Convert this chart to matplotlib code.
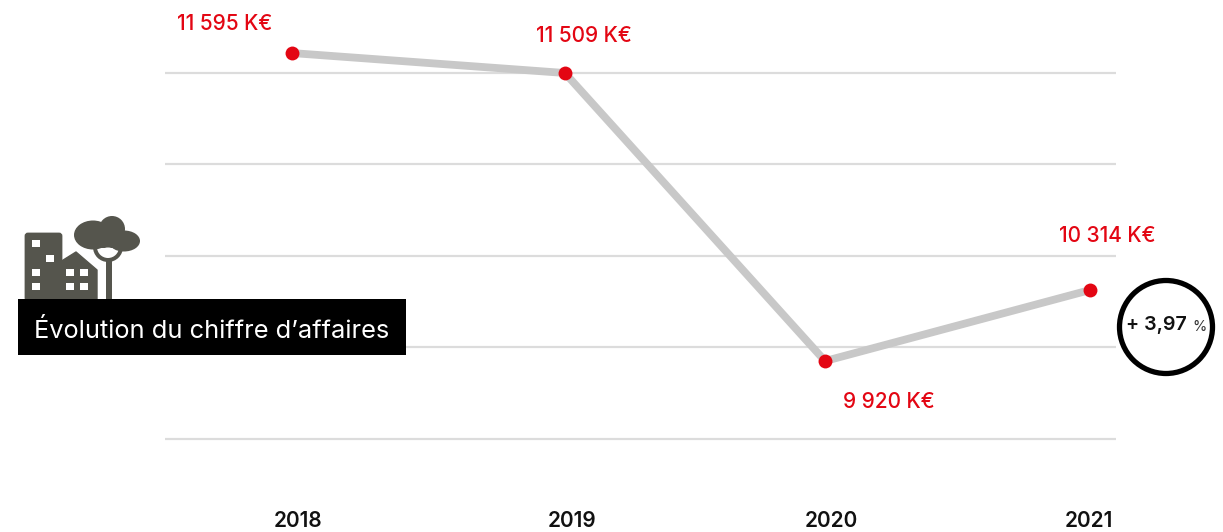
import matplotlib
matplotlib.use("Agg")
import matplotlib.pyplot as plt
from matplotlib.patches import Circle, Ellipse, Rectangle, FancyBboxPatch, Polygon, Wedge

W, H = 1223, 532
plt.rcParams['font.family'] = ['Inter', 'DejaVu Sans']

years = ['2018', '2019', '2020', '2021']
value_labels = ['11 595 K€', '11 509 K€', '9 920 K€', '10 314 K€']
values = [11609, 11500, 9926, 10314]
grid_values = [9500, 10000, 10500, 11000, 11500]
title = "Évolution du chiffre d’affaires"
change_value = '+ 3,97'
change_unit = '%'

# Layout: horizontal places on the year axis (the picture spaces them unevenly)
point_x = [2018, 2019.026, 2020.004, 2021]
tick_x = [2018.023, 2019.053, 2020.026, 2020.996]
label_offsets_px = [(-67, 29), (19, 37), (64, -41), (17, 54)]

RED = '#e30613'
GREY = '#c8c8c8'
GRID = '#dcdcdc'
ICON = '#55554d'

fig = plt.figure(figsize=(W / 100, H / 100), dpi=100, facecolor='white')

# Chart axes: spans pixel x 165..1116, pixel y 0..500
ax = fig.add_axes([165 / W, 1 - 500 / H, (1116 - 165) / W, 500 / H])
px_per_year = 266.0
ax.set_xlim(2018 - (292 - 165) / px_per_year, 2018 + (1116 - 292) / px_per_year)
px_per_unit = 91.5 / 500
ax.set_ylim(11500 - (500 - 73) / px_per_unit, 11500 + 73 / px_per_unit)

ax.set_yticks(grid_values)
ax.set_yticklabels([])
ax.grid(axis='y', color=GRID, lw=1.6, zorder=1)
ax.grid(axis='x', visible=False)
ax.tick_params(axis='both', length=0)
for s in ax.spines.values():
    s.set_visible(False)
ax.set_xticks(tick_x)
ax.set_xticklabels(years, fontsize=15, fontweight='semibold', color='#111111')
ax.tick_params(axis='x', pad=8)
ax.patch.set_alpha(0)

ax.plot(point_x, values, color=GREY, lw=5.6, solid_joinstyle='miter', zorder=2, clip_on=False)
ax.plot(point_x, values, ls='none', marker='o', ms=10, color=RED, mec='none', zorder=3, clip_on=False)
for x, v, t, (dx, dy) in zip(point_x, values, value_labels, label_offsets_px):
    ax.annotate(t, (x, v), xytext=(dx * 0.72, dy * 0.72), textcoords='offset points',
                ha='center', va='center', color=RED, fontsize=15, fontweight='medium')

# Overlay in pixel units for the decorations
ov = fig.add_axes([0, 0, 1, 1])
ov.set_xlim(0, W)
ov.set_ylim(H, 0)
ov.axis('off')
ov.patch.set_alpha(0)

# Icon: building
ov.add_patch(FancyBboxPatch((26, 234), 35, 66, boxstyle='round,pad=0,rounding_size=2', fc=ICON, ec=ICON, lw=2))
ov.add_patch(Polygon([(60, 262), (76, 252), (97, 270), (97, 300), (60, 300)], closed=True, fc=ICON, ec=ICON, lw=1, joinstyle='round'))
for (x, y, w, h) in [(32, 240, 8, 7), (46, 255, 8, 7), (32, 269, 8, 7), (32, 283, 8, 7),
                     (66, 269, 8, 7), (80, 269, 8, 7), (66, 283, 8, 7), (80, 283, 8, 7)]:
    ov.add_patch(Rectangle((x, y), w, h, fc='white', ec='none'))
# Icon: tree
ov.add_patch(Rectangle((106, 260), 6, 39, fc=ICON, ec='none'))
ov.add_patch(Wedge((108, 247), 15, 0, 180, width=4, fc=ICON, ec='none', zorder=2))
ov.add_patch(Ellipse((93, 235), 38, 29, fc=ICON, ec='none', zorder=3))
ov.add_patch(Circle((112, 229), 13, fc=ICON, ec='none', zorder=3))
ov.add_patch(Ellipse((124, 241), 32, 21, fc=ICON, ec='none', zorder=3))
ov.add_patch(Rectangle((95, 228), 22, 20, fc=ICON, ec='none', zorder=3))
ov.add_patch(Ellipse((108, 252), 15, 9, fc='white', ec='none', zorder=3))

# Title box
ov.add_patch(Rectangle((18, 299), 388, 56, fc='black', ec='none', zorder=4))
ov.text(212, 331, title, color='white', fontsize=18.3, ha='center', va='center', zorder=5)

# Change badge
ov.add_patch(Circle((1166, 327), 46.5, fc='white', ec='black', lw=3.8, zorder=4))
ov.text(1126, 325, change_value, color='#111111', fontsize=14.2, fontweight='semibold',
        ha='left', va='center', zorder=5)
ov.text(1199, 327, change_unit, color='#333333', fontsize=10.5, ha='center', va='center', zorder=5)

fig.savefig('out.png', dpi=100, facecolor='white')
